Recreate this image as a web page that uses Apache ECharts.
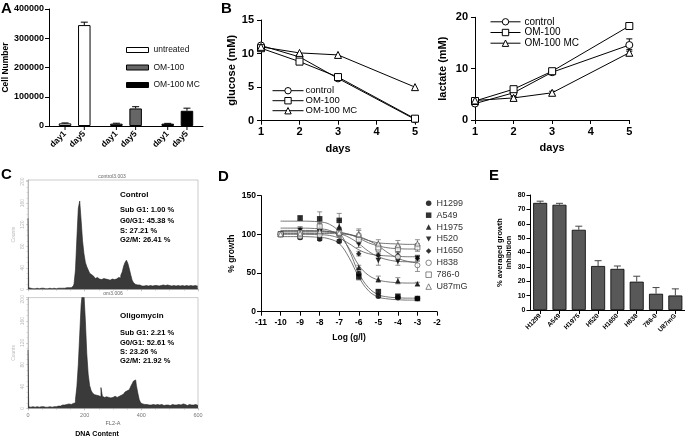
<!DOCTYPE html>
<html>
<head>
<meta charset="utf-8">
<script src="https://cdn.jsdelivr.net/npm/echarts@6/dist/echarts.min.js"></script>
<style>html,body{margin:0;padding:0;background:#fff;}#chart{width:685px;height:438px;}</style>
</head>
<body>
<div id="chart"></div>
<script>
// ================= DATA =================
// Panel A : cell number
const A_groups = ['untreated', 'OM-100', 'OM-100 MC'];
const A_day1 = [9000, 8000, 8000];
const A_day5 = [345000, 60000, 52000];
const A_day1Err = [1500, 1500, 1000];
const A_day5Err = [10000, 6000, 9000];
const A_dayLabels = ['day1', 'day5'];

// Panel B : glucose / lactate
const B_days = [1, 2, 3, 5];
const B_names = ['control', 'OM-100', 'OM-100 MC'];
const glu_control = [11.2, 9.5, 6.3, 0.2];
const glu_om100 = [10.8, 8.8, 6.5, 0.3];
const glu_om100mc = [11.0, 10.1, 9.8, 5.0];
const lac_control = [3.2, 5.3, 9.3, 14.6];
const lac_om100 = [3.7, 6.0, 9.5, 18.3];
const lac_om100mc = [3.8, 4.3, 5.3, 13.1];
const lac_control_err = [0.3, 0.3, 0.3, 1.2];
const lac_om100_err = [0.2, 0.2, 0.2, 0.4];
const lac_om100mc_err = [0.3, 0.3, 0.3, 0.6];

// Panel C : DNA content histograms (counts per 5-unit bin, FL2-A 0..600)
const C_binWidth = 5;
const C_control = [
  132,3,2,1,2,1,2,1,1,2,
  1,2,1,2,1,2,2,1,2,2,
  1,2,2,2,2,2,2,3,2,3,
  3,4,6,10,36,95,150,164,128,90,
  66,50,42,36,30,27,24,22,20,22,
  19,21,18,20,22,19,18,20,17,19,
  21,18,19,20,22,21,26,32,43,50,
  54,48,38,27,17,12,9,8,7,8,
  6,7,6,7,8,6,7,8,6,7,
  8,7,6,8,7,8,6,7,8,6,
  7,6,8,7,6,8,7,6,8,7,
  6,8,7,6,8,7,6,8,7,6,
  5];
const C_oligo = [
  107,3,2,3,2,2,3,2,2,3,
  2,3,2,3,2,3,3,2,3,4,
  3,4,5,4,6,5,6,7,6,8,
  7,8,9,10,16,40,80,135,190,215,
  210,160,100,62,42,33,28,25,24,22,
  23,21,38,22,20,21,23,20,19,21,
  20,22,21,20,22,22,24,26,28,30,
  32,34,37,40,45,50,52,42,28,16,
  10,8,7,6,7,6,5,6,7,5,
  6,7,8,6,7,6,5,6,7,6,
  5,6,7,6,8,6,7,5,6,8,
  6,7,5,6,7,6,5,6,7,6,
  5];
const C_ctrlTitle = 'control3.003';
const C_oligoTitle = 'om3.006';
const C_ctrlText = ['Control', 'Sub G1: 1.00 %', 'G0/G1: 45.38 %', 'S: 27.21 %', 'G2/M: 26.41 %'];
const C_oligoText = ['Oligomycin', 'Sub G1: 2.21 %', 'G0/G1: 52.61 %', 'S: 23.26 %', 'G2/M: 21.92 %'];

// Panel D : dose response
const D_names = ['H1299', 'A549', 'H1975', 'H520', 'H1650', 'H838', '786-0', 'U87mG'];
const D_x = [-10, -9, -8, -7, -6, -5, -4, -3];
const D_yTicks = [0, 50, 100, 150];
const D_H1299 = [100, 96, 94, 91, 49, 20, 18, 17];
const D_A549  = [100, 121, 120, 118, 45, 26, 20, 17];
const D_H1975 = [100, 106, 109, 110, 57, 42, 40, 36];
const D_H520  = [100, 105, 103, 103, 87, 66, 65, 69];
const D_H1650 = [100, 98, 101, 100, 75, 73, 73, 69];
const D_H838  = [100, 97, 99, 100, 99, 80, 71, 60];
const D_7860  = [100, 102, 110, 102, 93, 83, 81, 83];
const D_U87mG = [100, 101, 104, 102, 100, 88, 86, 88];
const D_errH1299 = [1, 2, 2, 2, 3, 2, 2, 1];
const D_errA549  = [1, 3, 9, 9, 4, 2, 2, 1];
const D_errH1975 = [1, 4, 5, 8, 3, 4, 4, 2];
const D_errH520  = [1, 3, 4, 5, 4, 6, 5, 4];
const D_errH1650 = [1, 3, 3, 3, 3, 4, 4, 3];
const D_errH838  = [1, 3, 3, 4, 6, 5, 6, 8];
const D_err7860  = [1, 3, 5, 4, 5, 5, 5, 5];
const D_errU87mG = [1, 3, 4, 4, 7, 5, 6, 5];
// fitted curves
const D_curveX = [-10, -9, -8, -7.5, -7, -6.5, -6, -5.5, -5, -4.5, -4, -3.5, -3];
const D_fitH1299 = [97, 97, 96, 94, 88, 70, 45, 27, 19, 16.5, 15.5, 15, 15];
const D_fitA549  = [117, 117, 116, 113, 103, 80, 50, 31, 22, 19, 18, 17.5, 17.5];
const D_fitH1975 = [108, 108, 107, 105, 98, 82, 60, 47, 41, 38.5, 37.5, 37, 37];
const D_fitH520  = [105, 105, 104.5, 103.5, 101, 96, 88, 78, 71, 67, 65, 64.5, 64];
const D_fitH1650 = [100, 100, 99.5, 98.5, 95, 88, 80, 75, 73, 72, 71.5, 71, 71];
const D_fitH838  = [101, 101, 101, 101, 100.5, 99.5, 97, 92, 85, 76, 69, 65, 63];
const D_fit7860  = [104, 104, 104, 103.5, 102.5, 100, 95, 89, 85, 82.5, 81.5, 81, 81];
const D_fitU87mG = [103, 103, 103, 102.5, 102, 100, 96, 92, 89, 88, 87.5, 87, 87];

// Panel E : averaged growth inhibition
const E_cells = ['H1299', 'A549', 'H1975', 'H520', 'H1650', 'H838', '786-0', 'U87mG'];
const E_values = [74.5, 73.2, 55.8, 30.6, 28.6, 19.7, 11.3, 10.1];
const E_err = [1.2, 1.0, 2.5, 3.7, 2.0, 3.8, 4.3, 4.6];

// ================= STYLE / LAYOUT =================
const FONT = '"Liberation Sans", Arial, Helvetica, sans-serif';
const BLACK = '#000';
const A_BAR_W = 12.5, A_GAP = 0.54;
const A_colors = ['#ffffff', '#666666', '#000000'];
const D_symbols = ['circle', 'rect', 'triangle', 'path://M0,0L10,0L5,9Z', 'diamond', 'circle', 'rect', 'triangle'];
const D_open = [false, false, false, false, false, true, true, true];
const D_LABEL_MARGIN = 5;

function axisLineBlack() { return {show: true, lineStyle: {color: BLACK, width: 1}}; }
function tickBlack(len) { return {show: true, length: len, lineStyle: {color: BLACK, width: 1}}; }
function lbl(size, extra) { return Object.assign({fontFamily: FONT, fontWeight: 'bold', fontSize: size, color: BLACK}, extra || {}); }

// error bar renderer (for value/category axes). offset shifts x in px
function errBar(capHalf, color, width, upOnly, offset, tickLen) {
  return function (params, api) {
    const x = api.value(0), v = api.value(1), e = api.value(2);
    const pTop = api.coord([x, v + e]);
    const pBot = api.coord([x, upOnly ? v : v - e]);
    const xx = pTop[0] + (offset || 0);
    const st = {stroke: color, lineWidth: width};
    const ch = [
      {type: 'line', shape: {x1: xx, y1: pBot[1], x2: xx, y2: pTop[1]}, style: st},
      {type: 'line', shape: {x1: xx - capHalf, y1: pTop[1], x2: xx + capHalf, y2: pTop[1]}, style: st}
    ];
    if (!upOnly) ch.push({type: 'line', shape: {x1: xx - capHalf, y1: pBot[1], x2: xx + capHalf, y2: pBot[1]}, style: st});
    if (tickLen) {
      const p0 = api.coord([x, 0]);
      ch.push({type: 'line', shape: {x1: xx, y1: p0[1], x2: xx, y2: p0[1] + tickLen}, style: {stroke: BLACK, lineWidth: 1}});
    }
    return {type: 'group', children: ch};
  };
}

const series = [];

// ---------- Panel A ----------
const aOff = A_BAR_W * (1 + A_GAP) / 2;
[A_day1, A_day5].forEach(function (vals, k) {
  series.push({
    type: 'bar', name: A_dayLabels[k], xAxisIndex: 0, yAxisIndex: 0,
    barWidth: A_BAR_W, barGap: (A_GAP * 100) + '%',
    itemStyle: {borderColor: BLACK, borderWidth: 1},
    data: vals.map(function (v, i) { return {value: v, itemStyle: {color: A_colors[i]}}; }),
    label: {show: true, position: 'bottom', distance: 6.5, formatter: A_dayLabels[k], rotate: 45,
      align: 'right', verticalAlign: 'middle', fontFamily: FONT, fontWeight: 'bold', fontSize: 8.5, color: BLACK}
  });
});
[[A_day1, A_day1Err, -1], [A_day5, A_day5Err, 1]].forEach(function (d) {
  series.push({
    type: 'custom', xAxisIndex: 0, yAxisIndex: 0, z: 3,
    renderItem: errBar(3.5, BLACK, 1, true, d[2] * aOff, 4),
    data: d[0].map(function (v, i) { return [i, v, d[1][i]]; })
  });
});
// legend-only series for panel A
A_groups.forEach(function (g, i) {
  series.push({type: 'bar', name: g + ' ', xAxisIndex: 7, yAxisIndex: 7, data: [],
    itemStyle: {color: A_colors[i], borderColor: BLACK, borderWidth: 1}});
});

// ---------- Panel B ----------
const B_symbols = ['circle', 'rect', 'triangle'];
const gluSets = [glu_control, glu_om100, glu_om100mc];
const lacSets = [lac_control, lac_om100, lac_om100mc];
const lacErrs = [lac_control_err, lac_om100_err, lac_om100mc_err];
function bLine(name, vals, k, axis) {
  return {
    type: 'line', name: name, xAxisIndex: axis, yAxisIndex: axis,
    symbol: B_symbols[k], symbolSize: 7, showAllSymbol: true,
    itemStyle: {color: '#fff', borderColor: BLACK, borderWidth: 1},
    lineStyle: {color: BLACK, width: 1}, z: 4,
    data: B_days.map(function (d, i) { return [d, vals[i]]; })
  };
}
B_names.forEach(function (n, k) { series.push(bLine(n, gluSets[k], k, 1)); });
B_names.forEach(function (n, k) {
  series.push({type: 'custom', xAxisIndex: 2, yAxisIndex: 2, z: 2,
    renderItem: errBar(3, BLACK, 1, false, 0, 0),
    data: B_days.map(function (d, i) { return [d, lacSets[k][i], lacErrs[k][i]]; })});
  series.push(bLine(n, lacSets[k], k, 2));
});

// ---------- Panel C ----------
[[C_control, 3], [C_oligo, 4]].forEach(function (h) {
  series.push({
    type: 'line', xAxisIndex: h[1], yAxisIndex: h[1], symbol: 'none', step: 'middle',
    lineStyle: {color: '#222', width: 0.6}, areaStyle: {color: '#3a3a3a', opacity: 1},
    data: h[0].map(function (c, i) { return [i * C_binWidth, c]; }), clip: true
  });
});

// ---------- Panel D ----------
const D_pts = [D_H1299, D_A549, D_H1975, D_H520, D_H1650, D_H838, D_7860, D_U87mG];
const D_errs = [D_errH1299, D_errA549, D_errH1975, D_errH520, D_errH1650, D_errH838, D_err7860, D_errU87mG];
const D_fits = [D_fitH1299, D_fitA549, D_fitH1975, D_fitH520, D_fitH1650, D_fitH838, D_fit7860, D_fitU87mG];
D_names.forEach(function (n, k) {
  series.push({type: 'line', name: n + ' fit', xAxisIndex: 5, yAxisIndex: 5, symbol: 'none', smooth: 0.4,
    lineStyle: {color: '#555', width: 0.8}, z: 1,
    data: D_curveX.map(function (x, i) { return [x, D_fits[k][i]]; })});
  series.push({type: 'custom', xAxisIndex: 5, yAxisIndex: 5, z: 2,
    renderItem: errBar(2.5, '#777', 0.8, false, 0, 0),
    data: D_x.map(function (x, i) { return [x, D_pts[k][i], D_errs[k][i]]; })});
});
D_names.forEach(function (n, k) {
  series.push({type: 'scatter', name: n, xAxisIndex: 5, yAxisIndex: 5, z: 5,
    symbol: D_symbols[k], symbolSize: D_open[k] ? 5 : 5.5,
    itemStyle: D_open[k] ? {color: '#fff', borderColor: '#444', borderWidth: 0.8} : {color: '#000'},
    data: D_x.map(function (x, i) { return [x, D_pts[k][i]]; })});
});

// ---------- Panel E ----------
series.push({type: 'bar', xAxisIndex: 6, yAxisIndex: 6, barWidth: 14,
  itemStyle: {color: '#585858', borderColor: '#000', borderWidth: 0.8},
  data: E_values});
series.push({type: 'custom', xAxisIndex: 6, yAxisIndex: 6, z: 3,
  renderItem: errBar(3.5, '#444', 1, true, 0, 0),
  data: E_values.map(function (v, i) { return [i, v, E_err[i]]; })});

// ================= GRAPHIC TEXT =================
const graphics = [];
function txt(text, x, y, font, fill, align) {
  graphics.push({type: 'text', x: x, y: y, silent: true, z: 100,
    style: {text: text, font: font, fill: fill || '#000', textAlign: align || 'left', align: align || 'left',
      textVerticalAlign: 'middle', verticalAlign: 'middle'}});
}
const LETTER_FONT = 'bold 15px ' + FONT;
txt('A', 1, 9, LETTER_FONT);
txt('B', 221, 9, LETTER_FONT);
txt('C', 1, 175, LETTER_FONT);
txt('D', 218, 177, LETTER_FONT);
txt('E', 489, 176, LETTER_FONT);
// Panel C annotations
const cFont = 'bold 7.5px ' + FONT;
const cTopY = [195, 209.5, 221.3, 230.8, 239.8];
const cBotY = [315.5, 332.5, 342.5, 351.7, 360.8];
C_ctrlText.forEach(function (t, i) { txt(t, 120, cTopY[i], i === 0 ? 'bold 8px ' + FONT : cFont); });
C_oligoText.forEach(function (t, i) { txt(t, 120, cBotY[i], i === 0 ? 'bold 8px ' + FONT : cFont); });
txt(C_ctrlTitle, 112, 176.5, '5px ' + FONT, '#666', 'center');
txt(C_oligoTitle, 113, 294, '5px ' + FONT, '#666', 'center');
txt('FL2-A', 113, 423, '5.5px ' + FONT, '#666', 'center');
txt('DNA Content', 97, 434.5, 'bold 7px ' + FONT, '#000', 'center');

// ================= OPTION =================
const histX = function (idx, showLabel) {
  return {type: 'value', gridIndex: idx, min: 0, max: 600, interval: 200,
    axisLine: {show: true, lineStyle: {color: '#999', width: 0.6}},
    axisTick: {show: true, length: 2, lineStyle: {color: '#999', width: 0.6}},
    minorTick: {show: true, splitNumber: 4, length: 1.5, lineStyle: {color: '#aaa', width: 0.5}},
    splitLine: {show: false},
    axisLabel: {show: showLabel, fontFamily: FONT, fontSize: 5.5, color: '#777', margin: 4}};
};
const histY = function (idx) {
  return {type: 'value', gridIndex: idx, min: 0, max: 203, interval: 40,
    axisLine: {show: true, lineStyle: {color: '#999', width: 0.6}},
    axisTick: {show: true, length: 2, lineStyle: {color: '#aaa', width: 0.5}},
    minorTick: {show: true, splitNumber: 4, length: 1.5, lineStyle: {color: '#bbb', width: 0.5}},
    splitLine: {show: false},
    axisLabel: {fontFamily: FONT, fontSize: 5, color: '#bbb', rotate: 90, margin: 3, showMaxLabel: false,
      formatter: function (v) { return v % 40 === 0 ? String(v) : ''; }},
    name: 'Counts', nameLocation: 'middle', nameRotate: 90, nameGap: 12,
    nameTextStyle: {fontFamily: FONT, fontSize: 5, color: '#bbb'}};
};

const option = {
  animation: false,
  backgroundColor: '#fff',
  grid: [
    {left: 49, top: 9, width: 154, height: 117},
    {left: 261, top: 20, width: 154, height: 100.7},
    {left: 475, top: 17.3, width: 154.3, height: 102.7},
    {left: 28, top: 180, width: 170, height: 109.3, show: true, borderColor: '#aaa', borderWidth: 0.6},
    {left: 28, top: 297.6, width: 170, height: 110.7, show: true, borderColor: '#aaa', borderWidth: 0.6},
    {left: 261, top: 195.6, width: 176, height: 116.1},
    {left: 530.5, top: 195, width: 154.5, height: 115},
    {left: 0, top: 0, width: 1, height: 1, show: false}
  ],
  xAxis: [
    {type: 'category', gridIndex: 0, data: A_groups, axisLine: axisLineBlack(), axisTick: {show: false},
      axisLabel: {show: false}},
    {type: 'value', gridIndex: 1, min: 1, max: 5, interval: 1, axisLine: axisLineBlack(), axisTick: tickBlack(4),
      splitLine: {show: false}, axisLabel: lbl(11, {margin: 6}),
      name: 'days', nameLocation: 'middle', nameGap: 23, nameTextStyle: lbl(11)},
    {type: 'value', gridIndex: 2, min: 1, max: 5, interval: 1, axisLine: axisLineBlack(), axisTick: tickBlack(4),
      splitLine: {show: false}, axisLabel: lbl(11, {margin: 6}),
      name: 'days', nameLocation: 'middle', nameGap: 22, nameTextStyle: lbl(11)},
    histX(3, false),
    histX(4, true),
    {type: 'value', gridIndex: 5, min: -11, max: -2, interval: 1, axisLine: axisLineBlack(), axisTick: tickBlack(4),
      splitLine: {show: false}, axisLabel: lbl(8.5, {margin: 6}),
      name: 'Log (g/l)', nameLocation: 'middle', nameGap: 21, nameTextStyle: lbl(8.5)},
    {type: 'category', gridIndex: 6, data: E_cells, axisLine: axisLineBlack(),
      axisTick: {show: true, alignWithLabel: true, length: 4, lineStyle: {color: BLACK}},
      axisLabel: lbl(6.5, {rotate: 45, interval: 0, margin: 5})},
    {type: 'category', gridIndex: 7, show: false, data: []}
  ],
  yAxis: [
    {type: 'value', gridIndex: 0, min: 0, max: 400000, interval: 100000, axisLine: axisLineBlack(), axisTick: tickBlack(4),
      splitLine: {show: false}, axisLabel: lbl(9, {margin: 5, formatter: function (v) { return String(v); }}),
      name: 'Cell Number', nameLocation: 'middle', nameRotate: 90, nameGap: 30, nameTextStyle: lbl(8.5)},
    {type: 'value', gridIndex: 1, min: 0, max: 15, interval: 5, axisLine: axisLineBlack(), axisTick: tickBlack(4),
      splitLine: {show: false}, axisLabel: lbl(11, {margin: 7}),
      name: 'glucose (mM)', nameLocation: 'middle', nameRotate: 90, nameGap: 24, nameTextStyle: lbl(11)},
    {type: 'value', gridIndex: 2, min: 0, max: 20, interval: 10, axisLine: axisLineBlack(), axisTick: tickBlack(4),
      splitLine: {show: false}, axisLabel: lbl(11, {margin: 7}),
      name: 'lactate (mM)', nameLocation: 'middle', nameRotate: 90, nameGap: 27, nameTextStyle: lbl(11)},
    histY(3),
    histY(4),
    {type: 'value', gridIndex: 5, min: 0, max: 150, interval: 50, axisLine: axisLineBlack(),
      axisTick: tickBlack(4), splitLine: {show: false},
      axisLabel: lbl(8.5, {margin: D_LABEL_MARGIN, showMaxLabel: true, showMinLabel: true}),
      name: '% growth', nameLocation: 'middle', nameRotate: 90, nameGap: 25, nameTextStyle: lbl(8.5)},
    {type: 'value', gridIndex: 6, min: 0, max: 80, interval: 10, axisLine: axisLineBlack(), axisTick: tickBlack(4),
      splitLine: {show: false}, axisLabel: lbl(7, {margin: 5}),
      name: '% averaged growth\ninhibition', nameLocation: 'middle', nameRotate: 90, nameGap: 17,
      nameTextStyle: lbl(7.5, {lineHeight: 9})},
    {type: 'value', gridIndex: 7, show: false}
  ],
  legend: [
    {data: A_groups.map(function (g) { return g + ' '; }), orient: 'vertical', left: 126, top: 45, padding: 0,
      icon: 'rect', itemWidth: 22, itemHeight: 5, itemGap: 7.5, selectedMode: false,
      itemStyle: {borderWidth: 1, borderColor: BLACK},
      textStyle: {fontFamily: FONT, fontSize: 8.5, color: '#111', lineHeight: 10}},
    {data: B_names, orient: 'vertical', left: 272, top: 85.7, padding: 0, itemWidth: 31, itemHeight: 8, itemGap: 0,
      itemStyle: {borderWidth: 1, borderColor: BLACK, color: '#fff'}, lineStyle: {width: 1, color: BLACK},
      selectedMode: false, textStyle: {fontFamily: FONT, fontSize: 9.5, color: '#000', lineHeight: 9.7, padding: [0, 0, 0, -3]}},
    {data: B_names, orient: 'vertical', left: 490, top: 16.7, padding: 0, itemWidth: 30, itemHeight: 8, itemGap: 0.5,
      itemStyle: {borderWidth: 1, borderColor: BLACK, color: '#fff'}, lineStyle: {width: 1, color: BLACK},
      selectedMode: false, textStyle: {fontFamily: FONT, fontSize: 10, color: '#000', lineHeight: 10.2, padding: [0, 0, 0, -1]}},
    {data: D_names, orient: 'vertical', left: 425.5, top: 198.8, padding: 0, itemWidth: 5.5, itemHeight: 5.5, itemGap: 2.9,
      itemStyle: {borderWidth: 0.8},
      selectedMode: false, textStyle: {fontFamily: FONT, fontSize: 9, color: '#333', lineHeight: 9}}
  ],
  graphic: graphics,
  series: series
};

const chart = echarts.init(document.getElementById('chart'), null, {renderer: 'canvas', width: 685, height: 438});
chart.setOption(option);

// If panel D's y tick labels were not drawn, add them as text placed through the axes' own scale.
try {
  const axisPx = chart.convertToPixel({xAxisIndex: 5, yAxisIndex: 5}, [-11, 0]);
  let shown = 0;
  const list = chart.getZr().storage.getDisplayList(true);
  list.forEach(function (el) {
    const t = el.style && el.style.text;
    if (t != null && D_yTicks.map(String).indexOf(String(t)) >= 0) {
      const r = el.getBoundingRect().clone();
      const m = el.getComputedTransform();
      if (m) r.applyTransform(m);
      const cx = r.x + r.width / 2, cy = r.y + r.height / 2;
      if (axisPx && cx < axisPx[0] && cx > axisPx[0] - 30 && cy > axisPx[1] - 125 && cy < axisPx[1] + 8) shown++;
    }
  });
  if (shown < D_yTicks.length) {
    const extra = [];
    D_yTicks.forEach(function (v) {
      const p = chart.convertToPixel({xAxisIndex: 5, yAxisIndex: 5}, [-11, v]);
      if (p && isFinite(p[0]) && isFinite(p[1])) {
        extra.push({type: 'text', x: p[0] - D_LABEL_MARGIN, y: p[1], silent: true, z: 100,
          style: {text: String(v), font: 'bold 8.5px ' + FONT, fill: '#000', textAlign: 'right', align: 'right',
            textVerticalAlign: 'middle', verticalAlign: 'middle'}});
      }
    });
    chart.setOption({graphic: graphics.concat(extra)});
  }
} catch (e) { /* ignore */ }
</script>
</body>
</html>
